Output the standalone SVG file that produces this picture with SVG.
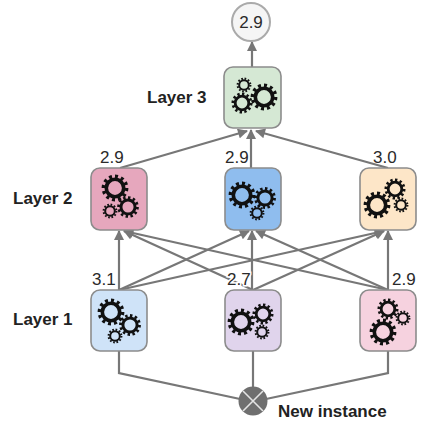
<svg xmlns="http://www.w3.org/2000/svg" width="434" height="422" viewBox="0 0 434 422">
<style>
text{font-family:"Liberation Sans",Arial,sans-serif;fill:#2a2a2a}
.val{font-size:17px}
.lab{font-size:17px;font-weight:bold;fill:#222}
.box{stroke:#8c8c8c;stroke-width:1.6}
.con{fill:none;stroke:#777;stroke-width:2.2}
.halo{stroke:#fff;stroke-width:3px;paint-order:stroke}
</style>
<defs>
<marker id="arr" viewBox="0 0 10 10" refX="9" refY="5" markerWidth="12" markerHeight="10" markerUnits="userSpaceOnUse" orient="auto"><path d="M0 0L10 5L0 10Z" fill="#777"/></marker>
<g id="gear" fill="none" stroke="#111">
<circle r="6.7" stroke-width="2.8"/>
<circle r="8.9" stroke-width="2.8" pathLength="24" stroke-dasharray="1 1"/>
</g>
</defs>
<g id="connectors">
<path class="con" d="M252 67V42" marker-end="url(#arr)"/>
<path class="con" d="M120 168L247 131" marker-end="url(#arr)"/>
<path class="con" d="M251 168V130" marker-end="url(#arr)"/>
<path class="con" d="M388 168L256 131" marker-end="url(#arr)"/>
<path class="con" d="M119 290V231" marker-end="url(#arr)"/>
<path class="con" d="M119 290L249 231" marker-end="url(#arr)"/>
<path class="con" d="M119 290L384 231" marker-end="url(#arr)"/>
<path class="con" d="M253 290L124 231" marker-end="url(#arr)"/>
<path class="con" d="M252 290V231" marker-end="url(#arr)"/>
<path class="con" d="M253 290L384 231" marker-end="url(#arr)"/>
<path class="con" d="M388 290L124 231" marker-end="url(#arr)"/>
<path class="con" d="M388 290L256 231" marker-end="url(#arr)"/>
<path class="con" d="M388 290V231" marker-end="url(#arr)"/>
<path class="con" d="M119 351V373L240 399"/>
<path class="con" d="M253 351V388"/>
<path class="con" d="M388 351V373L266 399"/>
</g>
<g id="output">
<circle cx="251" cy="22" r="19" fill="#f5f5f5" stroke="#aaa" stroke-width="2"/>
<text class="val" x="251" y="28" text-anchor="middle">2.9</text>
</g>
<g id="layer3-node">
<rect class="box" x="224" y="67" width="57" height="61" rx="9" fill="#d5e8d4"/>
<use href="#gear" transform="translate(264 97) scale(1.3)"/>
<use href="#gear" transform="translate(242 103) scale(1.02)"/>
<use href="#gear" transform="translate(244 85) scale(.72)"/>
</g>
<g id="l2-pink">
<rect class="box" x="91" y="168" width="56" height="62" rx="9" fill="#e6a7bd"/>
<use href="#gear" transform="translate(115 188) scale(1.3)"/>
<use href="#gear" transform="translate(128 207) scale(1.05)"/>
<use href="#gear" transform="translate(110 211) scale(.72)"/>
</g>
<g id="l2-blue">
<rect class="box" x="225" y="168" width="56" height="62" rx="9" fill="#8fbdee"/>
<use href="#gear" transform="translate(242 195) scale(1.3)"/>
<use href="#gear" transform="translate(265 198) scale(1.06)"/>
<use href="#gear" transform="translate(257 213) scale(.72)"/>
</g>
<g id="l2-orange">
<rect class="box" x="360" y="168" width="56" height="62" rx="9" fill="#fde6c8"/>
<use href="#gear" transform="translate(377 205) scale(1.3)"/>
<use href="#gear" transform="translate(395 189) scale(1.02)"/>
<use href="#gear" transform="translate(401 205) scale(.72)"/>
</g>
<g id="l1-blue">
<rect class="box" x="91" y="290" width="56" height="61" rx="9" fill="#cfe3f8"/>
<use href="#gear" transform="translate(111 312) scale(1.3)"/>
<use href="#gear" transform="translate(130 325) scale(1.06)"/>
<use href="#gear" transform="translate(115 336) scale(.72)"/>
</g>
<g id="l1-purple">
<rect class="box" x="225" y="290" width="56" height="61" rx="9" fill="#e0d4ec"/>
<use href="#gear" transform="translate(241 322) scale(1.3)"/>
<use href="#gear" transform="translate(263 314) scale(1.02)"/>
<use href="#gear" transform="translate(262 332) scale(.72)"/>
</g>
<g id="l1-pink">
<rect class="box" x="360" y="290" width="56" height="61" rx="9" fill="#f6d2df"/>
<use href="#gear" transform="translate(383 332) scale(1.3)"/>
<use href="#gear" transform="translate(388 309) scale(1.02)"/>
<use href="#gear" transform="translate(403 318) scale(.72)"/>
</g>
<g id="new-instance">
<circle cx="253" cy="401" r="14.5" fill="#6f6f6f"/>
<path d="M243 391L263 411M263 391L243 411" stroke="#e4e4e4" stroke-width="1.6" fill="none"/>
<text class="lab" x="278" y="417">New instance</text>
</g>
<g id="labels">
<text class="lab" x="147" y="103">Layer 3</text>
<text class="lab" x="13" y="204">Layer 2</text>
<text class="lab" x="13" y="325">Layer 1</text>
<text class="val" x="100" y="163">2.9</text>
<text class="val" x="225" y="163">2.9</text>
<text class="val" x="373" y="163">3.0</text>
<text class="val" x="92" y="285">3.1</text>
<text class="val halo" x="227" y="285">2.7</text>
<text class="val" x="392" y="285">2.9</text>
</g>
</svg>
